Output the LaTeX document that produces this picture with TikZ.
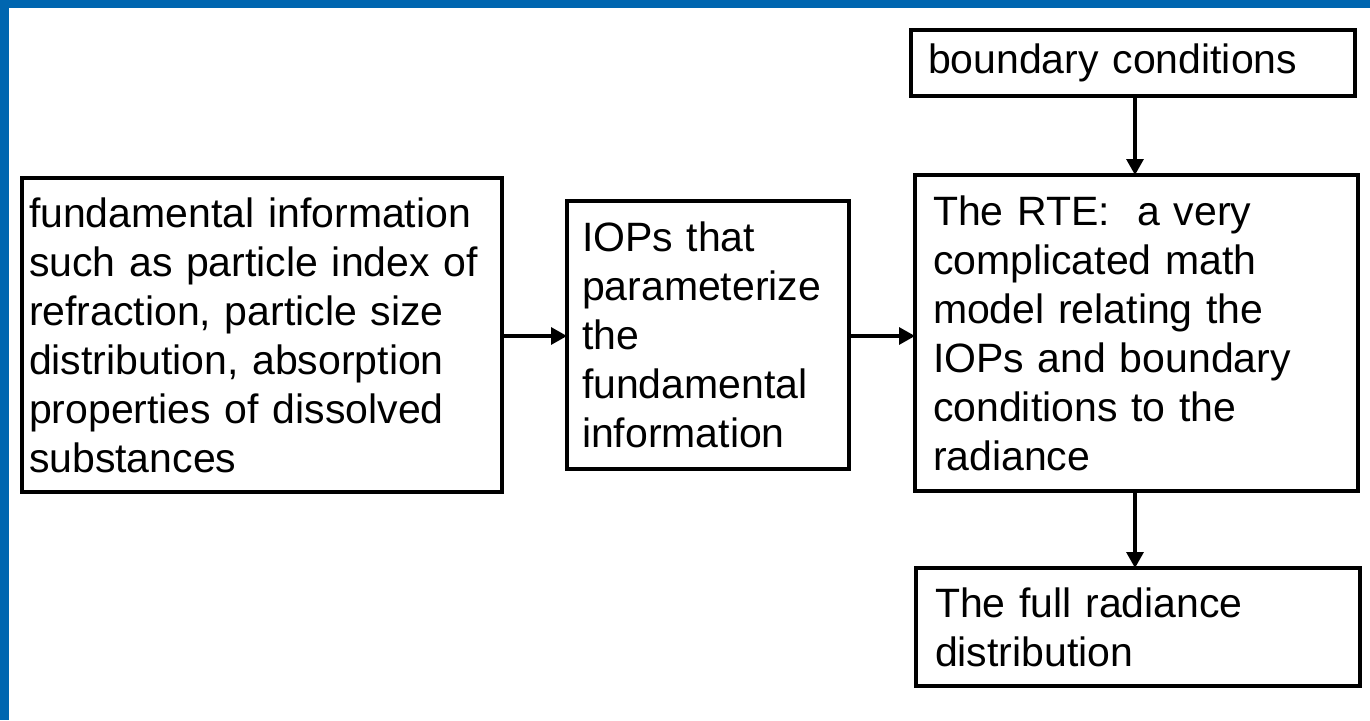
\documentclass[tikz,border=0pt]{standalone}
\usepackage{fontspec}
\setmainfont{Liberation Sans}
\usetikzlibrary{arrows.meta}
\definecolor{frameblue}{HTML}{0066B0}
\begin{document}
\begin{tikzpicture}[x=1pt,y=-1pt,
  box/.style={draw=black, line width=3.6pt, anchor=north west, outer sep=0pt,
    inner ysep=2pt, align=left, font=\fontsize{41}{49}\selectfont},
  conn/.style={draw=black, line width=3.2pt, -{Triangle[length=16pt,width=17pt]}}]
\useasboundingbox (0,0) rectangle (1370,720);
\fill[frameblue] (0,0) rectangle (9,720);
\fill[frameblue] (0,0) rectangle (1370,8);
\node[box, inner xsep=7pt, text width=466pt, minimum height=314pt] (fund) at (22,178)
 {fundamental information\\such as particle index of\\refraction, particle size\\distribution, absorption\\properties of dissolved\\substances};
\node[box, inner xsep=15pt, text width=252pt, minimum height=268pt] (iop) at (567,201)
 {IOPs that\\parameterize\\the\\fundamental\\information};
\node[box, inner xsep=18pt, text width=407pt, minimum height=316pt] (rte) at (915,175)
 {The RTE:~ a very\\complicated math\\model relating the\\IOPs and boundary\\conditions to the\\radiance};
\node[box, inner xsep=17pt, text width=410pt, minimum height=66pt] (bc) at (911,30)
 {boundary conditions};
\node[box, inner xsep=19pt, text width=406pt, minimum height=118pt] (full) at (916,568)
 {The full radiance\\distribution};
\draw[conn] (fund.east |- 0,336) -- (iop.west |- 0,336);
\draw[conn] (iop.east |- 0,336) -- (rte.west |- 0,336);
\draw[conn] (1135,0 |- bc.south) -- (1135,0 |- rte.north);
\draw[conn] (1135,0 |- rte.south) -- (1135,0 |- full.north);
\end{tikzpicture}
\end{document}
